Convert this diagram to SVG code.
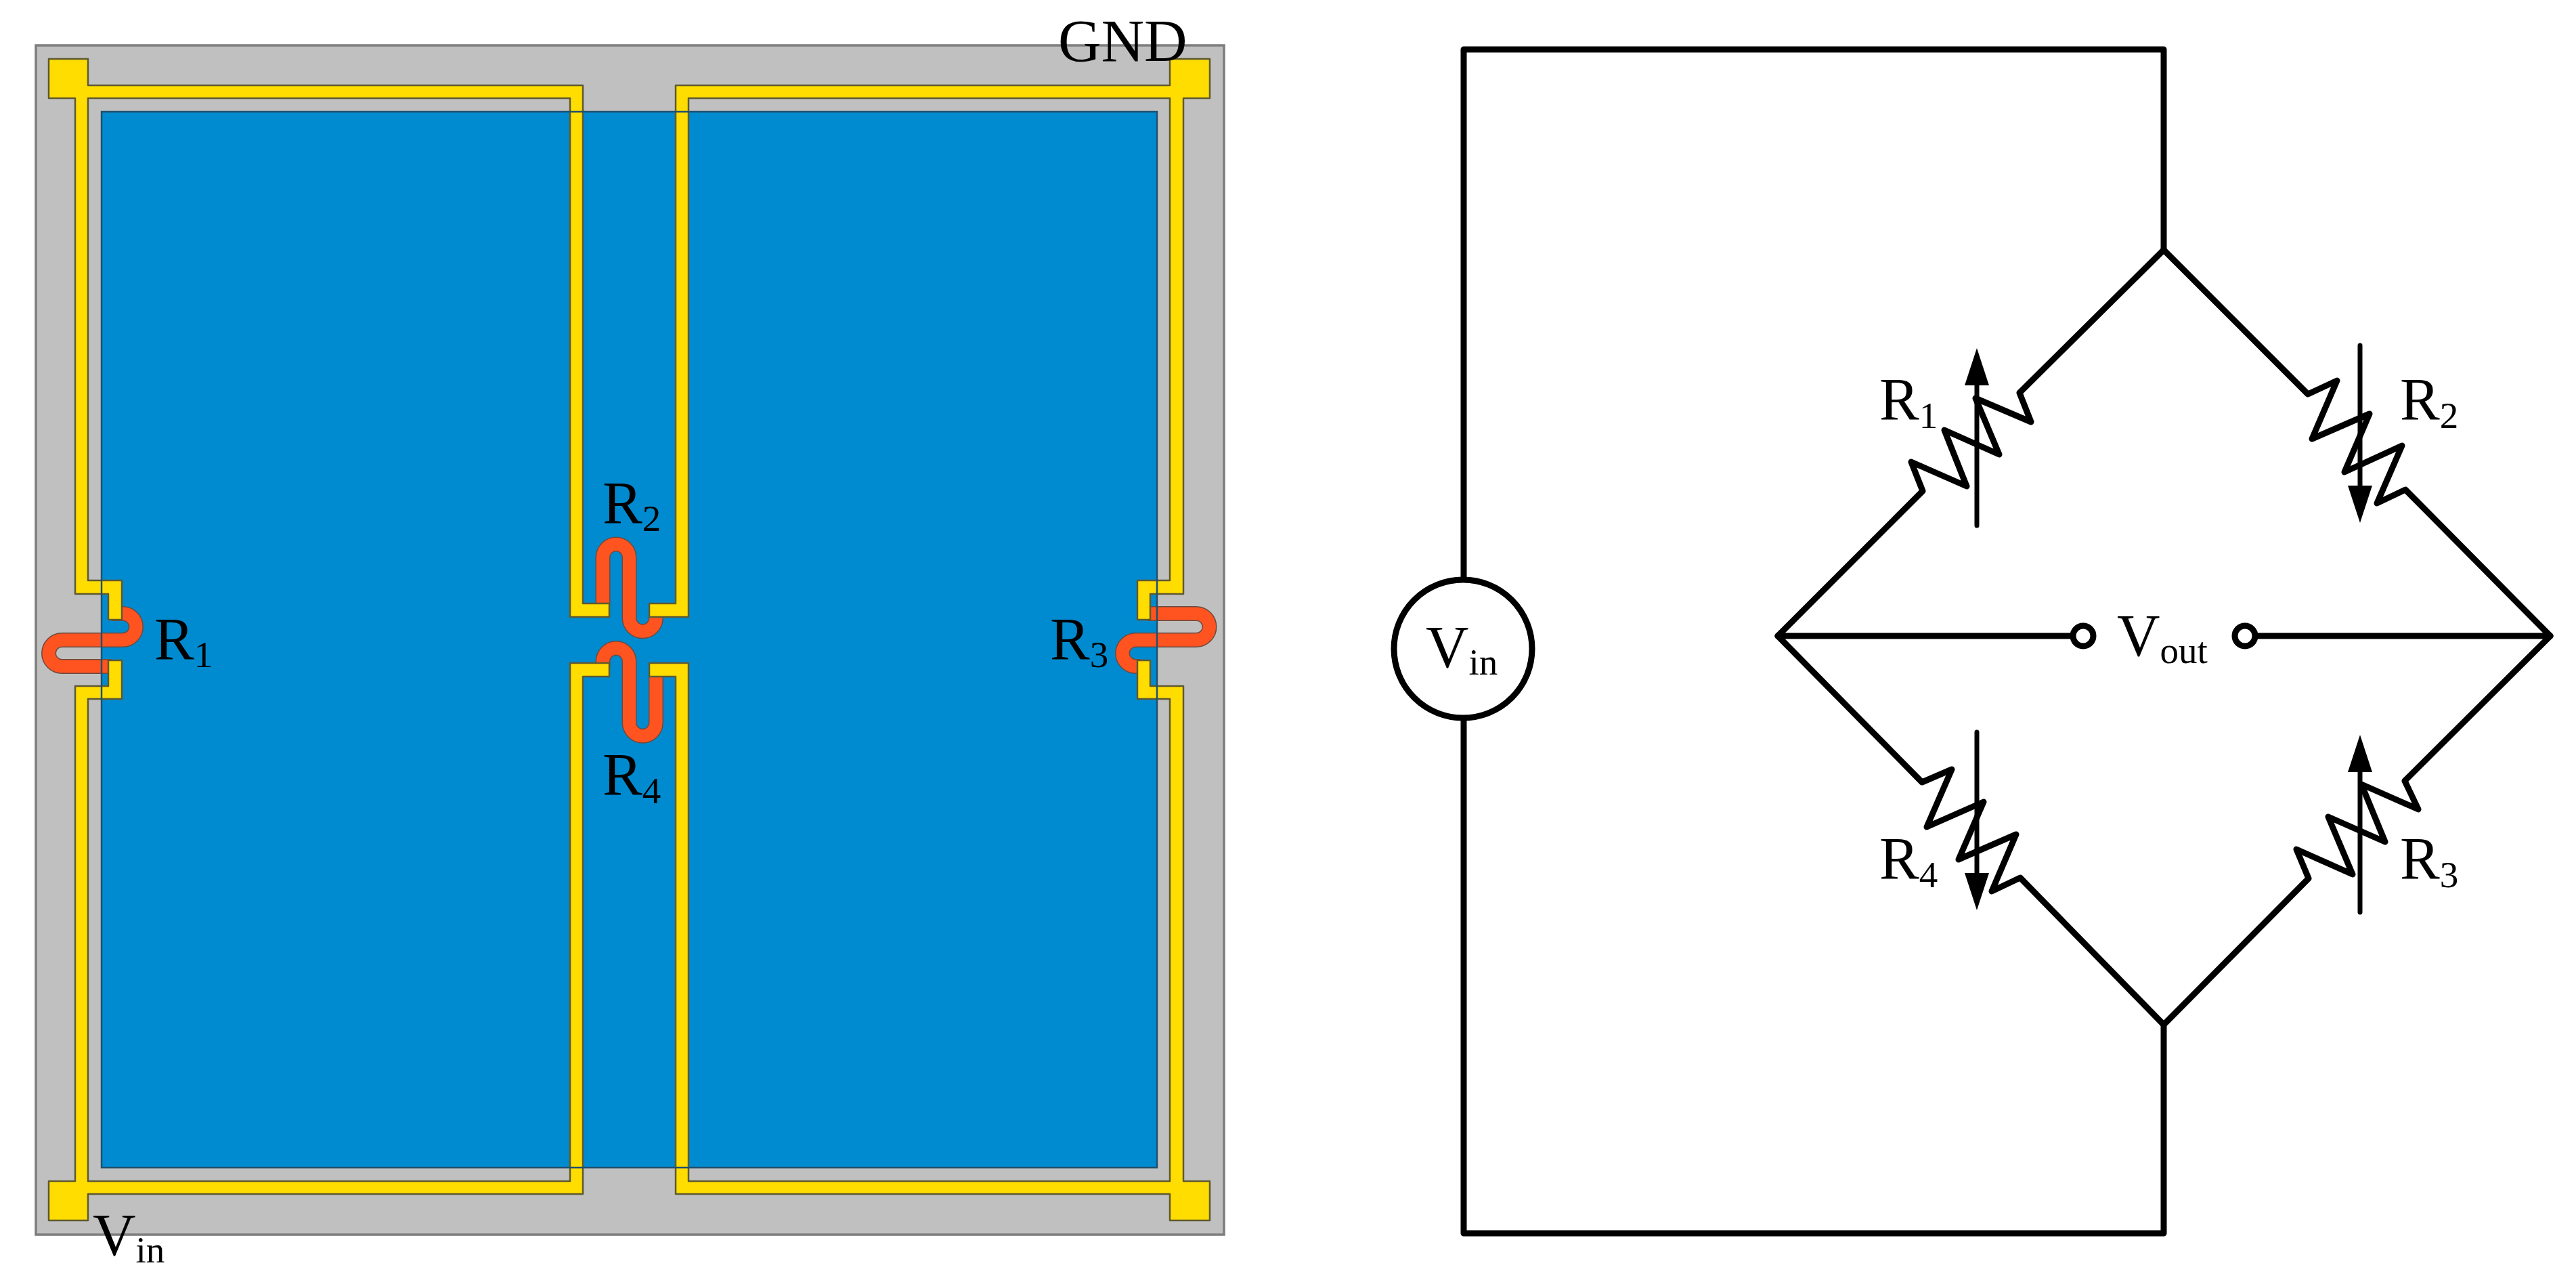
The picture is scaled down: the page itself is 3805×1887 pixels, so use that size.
<svg xmlns="http://www.w3.org/2000/svg" width="3805" height="1887" viewBox="0 0 3805 1887">
<style>
.t{font-family:"Liberation Serif","Times New Roman",serif;font-size:88px;fill:#000}
.s{font-size:55px}
.trace{fill:#FFDD00;stroke:#5f5a30;stroke-width:2.5;stroke-linejoin:round}
.redO{fill:none;stroke:#6a4a40;stroke-width:22}
.red{fill:none;stroke:#FF5420;stroke-width:19}
.w{fill:none;stroke:#000;stroke-width:9;stroke-linejoin:round;stroke-linecap:round}
.a{fill:none;stroke:#000;stroke-width:7;stroke-linecap:round;marker-end:url(#ah)}
.c{fill:#fff;stroke:#000;stroke-width:9}
</style>
<defs>
<marker id="ah" markerUnits="userSpaceOnUse" viewBox="0 0 55 36" refX="1" refY="18" markerWidth="55" markerHeight="36" orient="auto"><path d="M0 0L55 18L0 36Z" fill="#000"/></marker>
<path id="ur1" d="M165 906H181.500A19.500 19.500 0 0 1 181.500 945H91.500A19.500 19.500 0 0 0 91.500 984H165"/>
<path id="ur2" d="M890.500 895V823A19.500 19.500 0 0 1 929.500 823V912.500A19.750 19.750 0 0 0 969 912.500V905"/>
<path id="ur3" d="M1695 906H1767A19.500 19.500 0 0 1 1767 945H1677.500A19.500 19.500 0 0 0 1677.500 984H1685"/>
<path id="ur4" d="M890.500 985V976.500A19.500 19.500 0 0 1 929.500 976.500V1067A19.750 19.750 0 0 0 969 1067V995"/>
</defs>
<rect width="3805" height="1887" fill="#fff"/>

<g id="substrate"><rect x="53" y="67" width="1755" height="1756" fill="#C0C0C0" stroke="#7d7d7d" stroke-width="3.500"/></g>
<g id="membrane"><rect x="150" y="165" width="1559" height="1559" fill="#008BD0"/></g>

<g id="piezoresistors">
<g id="pr1"><use href="#ur1" class="redO"/><use href="#ur1" class="red"/></g>
<g id="pr2"><use href="#ur2" class="redO"/><use href="#ur2" class="red"/></g>
<g id="pr3"><use href="#ur3" class="redO"/><use href="#ur3" class="red"/></g>
<g id="pr4"><use href="#ur4" class="redO"/><use href="#ur4" class="red"/></g>
</g>

<g id="traces">
<path id="trace-top-left" class="trace" d="M72 87H130V126H861V891H900V911H842V145H130V857H180V915H160V877H111V145H72Z"/>
<path id="trace-top-right" class="trace" d="M998 126H1728V87H1787V145H1748V877H1699V915H1680V857H1728V145H1017V911H959V891H998Z"/>
<path id="trace-bottom-left" class="trace" d="M72 1802V1744H111V1013H160V975H180V1032H130V1744H842V979H900V999H861V1763H130V1802Z"/>
<path id="trace-bottom-right" class="trace" d="M1787 1802V1744H1748V1013H1699V975H1680V1032H1728V1744H1017V979H959V999H998V1763H1728V1802Z"/>
</g>
<g id="membrane-edge"><rect x="150" y="165" width="1559" height="1559" fill="none" stroke="#20506e" stroke-width="2.500"/></g>

<g id="chip-labels">
<text id="lbl-gnd" class="t" x="1563" y="90">GND</text>
<text id="lbl-vin" class="t" x="137" y="1853">V<tspan class="s" dy="11">in</tspan></text>
<text id="lbl-r1" class="t" x="228" y="973">R<tspan class="s" dy="12">1</tspan></text>
<text id="lbl-r2" class="t" x="890" y="772">R<tspan class="s" dy="12">2</tspan></text>
<text id="lbl-r3" class="t" x="1551" y="973">R<tspan class="s" dy="12">3</tspan></text>
<text id="lbl-r4" class="t" x="890" y="1173">R<tspan class="s" dy="13">4</tspan></text>
</g>

<g id="connectors">
<path class="w" d="M2162 855V73H3196V369"/>
<path class="w" d="M2162 1061V1821H3196V1513"/>
<path class="w" d="M2626 939H3062"/>
<path class="w" d="M3331 939H3767"/>
</g>

<g id="R1"><path class="w" d="M3196 369L2983 580L3000 623L2918 588L2953 671L2872 635L2905 718L2823 682L2840 725L2626 939"/><path class="a" d="M2920 776V568"/><text class="t" x="2776" y="619">R<tspan class="s" dy="13">1</tspan></text></g>
<g id="R2"><path class="w" d="M3196 369L3409 582L3452 562L3415 648L3500 611L3463 697L3548 658L3511 743L3553 723L3767 939"/><path class="a" d="M3486 510V718"/><text class="t" x="3545" y="619">R<tspan class="s" dy="13">2</tspan></text></g>
<g id="R3"><path class="w" d="M3196 1513L3410 1297L3392 1254L3475 1291L3439 1206L3523 1243L3488 1158L3572 1195L3552 1153L3767 939"/><path class="a" d="M3486 1347V1139"/><text class="t" x="3545" y="1297">R<tspan class="s" dy="13">3</tspan></text></g>
<g id="R4"><path class="w" d="M2626 939L2839 1155L2883 1136L2846 1221L2930 1184L2893 1269L2978 1232L2942 1316L2984 1296L3196 1513"/><path class="a" d="M2920 1081V1290"/><text class="t" x="2776" y="1297">R<tspan class="s" dy="13">4</tspan></text></g>

<g id="Vin"><circle class="c" cx="2161" cy="958" r="102"/><text class="t" x="2106" y="985">V<tspan class="s" dy="11">in</tspan></text></g>
<g id="Vout"><circle class="c" cx="3077" cy="939" r="15"/><circle class="c" cx="3316" cy="939" r="15"/><text class="t" x="3127" y="968">V<tspan class="s" dy="11">out</tspan></text></g>
</svg>
